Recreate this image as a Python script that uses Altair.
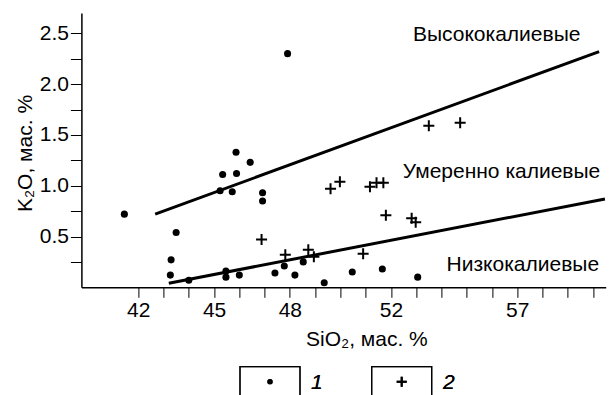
import altair as alt
import pandas as pd

# Group 1 (dots): SiO2 and K2O, wt. %
dot_sio2 = [41.45, 43.5, 43.3, 43.27, 44.0, 45.24, 45.34, 45.72, 45.87, 45.89,
            46.43, 46.92, 46.92, 45.47, 45.47, 46.0, 47.41, 47.78, 47.91, 48.2,
            48.53, 49.36, 50.47, 51.66, 53.06]
dot_k2o = [0.72, 0.54, 0.27, 0.12, 0.07, 0.95, 1.11, 0.94, 1.33, 1.12,
           1.23, 0.93, 0.85, 0.10, 0.16, 0.12, 0.14, 0.21, 2.30, 0.12,
           0.25, 0.045, 0.15, 0.18, 0.10]

# Group 2 (crosses)
cross_sio2 = [46.88, 47.82, 48.73, 48.95, 49.61, 49.98, 50.9, 51.17, 51.43,
              51.7, 51.8, 52.82, 52.98, 53.5, 54.74]
cross_k2o = [0.47, 0.32, 0.37, 0.30, 0.97, 1.04, 0.33, 0.99, 1.03,
             1.03, 0.71, 0.68, 0.64, 1.59, 1.62]

# Field boundaries
high_k_sio2 = [42.67, 60.24]
high_k_k2o = [0.72, 2.32]
low_k_sio2 = [43.21, 60.47]
low_k_k2o = [0.04, 0.87]

# Field names
field_names = ["Высококалиевые", "Умеренно калиевые", "Низкокалиевые"]
field_sio2 = [52.87, 52.47, 54.2]
field_k2o = [2.48, 1.135, 0.22]

x_ticks = list(range(42, 61))
x_labeled = [42, 45, 48, 52, 57]
y_ticks = [0.25 * i for i in range(1, 11)]

FONT = "Liberation Sans"
CROSS = "M-1,0L1,0M0,-1L0,1"

x_scale = alt.Scale(domain=[39.75, 60.5], nice=False, zero=False)
y_scale = alt.Scale(domain=[0, 2.7], nice=False, zero=False)

x_axis = alt.Axis(
    title="SiO₂, мас. %", values=x_ticks,
    labelExpr="indexof(" + str(x_labeled) + ", datum.value) >= 0 ? datum.label : ''",
    grid=False, domainColor="black", domainWidth=1.5, tickColor="black",
    tickSize=10, labelFontSize=21, labelFont=FONT, labelColor="black",
    labelPadding=2, titleFontSize=21, titleFont=FONT, titleFontWeight="normal",
    titleColor="black", titleX=285, titleY=52, titleBaseline="middle",
    labelFlush=False, labelOverlap=False,
)
y_axis = alt.Axis(
    title="K₂O, мас. %", values=y_ticks,
    labelExpr="(round(datum.value * 4) % 2 == 0) ? format(datum.value, '.1f') : ''",
    grid=False, domainColor="black", domainWidth=1.5, tickColor="black",
    tickSize=11, labelFontSize=21, labelFont=FONT, labelColor="black",
    labelPadding=2, titleFontSize=21, titleFont=FONT, titleFontWeight="normal",
    titleColor="black", titleX=-56, titleY=140, titleBaseline="middle",
    titleAngle=-90, labelOverlap=False,
)

dots = pd.DataFrame({"sio2": dot_sio2, "k2o": dot_k2o})
crosses = pd.DataFrame({"sio2": cross_sio2, "k2o": cross_k2o})
high_line = pd.DataFrame({"sio2": high_k_sio2, "k2o": high_k_k2o})
low_line = pd.DataFrame({"sio2": low_k_sio2, "k2o": low_k_k2o})
fields = pd.DataFrame({"name": field_names, "sio2": field_sio2, "k2o": field_k2o})

X = alt.X("sio2:Q", scale=x_scale, axis=x_axis)
Y = alt.Y("k2o:Q", scale=y_scale, axis=y_axis)

high = alt.Chart(high_line).mark_line(color="black", strokeWidth=3).encode(x=X, y=Y)
low = alt.Chart(low_line).mark_line(color="black", strokeWidth=3).encode(x=X, y=Y)

dot_layer = alt.Chart(dots).mark_point(
    shape="circle", filled=True, color="black", size=50, opacity=1
).encode(x=X, y=Y)

cross_layer = alt.Chart(crosses).mark_point(
    shape=CROSS, filled=False, color="black", strokeWidth=2, size=121, opacity=1
).encode(x=X, y=Y)

field_text = alt.Chart(fields).mark_text(
    align="left", baseline="middle", font=FONT, fontSize=21, color="black"
).encode(x=X, y=Y, text="name:N")

# Legend below the plot: two open boxes with symbols and italic numbers
legend_items = pd.DataFrame({"label": ["1", "2"]})
box_style = dict(fill=None, stroke="black", strokeWidth=1.2, clip=False)
box1 = alt.Chart(legend_items).mark_rect(**box_style).encode(
    x=alt.value(158.6), x2=alt.value(218.6), y=alt.value(353.7), y2=alt.value(430))
box2 = alt.Chart(legend_items).mark_rect(**box_style).encode(
    x=alt.value(290.3), x2=alt.value(350.3), y=alt.value(353.7), y2=alt.value(430))
sym1 = alt.Chart(legend_items).mark_point(
    shape="circle", filled=True, color="black", size=28, opacity=1, clip=False
).encode(x=alt.value(188.6), y=alt.value(368.7))
sym2 = alt.Chart(legend_items).mark_point(
    shape=CROSS, filled=False, color="black", strokeWidth=2, size=100, opacity=1, clip=False
).encode(x=alt.value(320.3), y=alt.value(368.7))
lab1 = alt.Chart(legend_items).mark_text(
    align="left", baseline="middle", font=FONT, fontSize=21, fontStyle="italic",
    color="black", clip=False, text="1"
).encode(x=alt.value(229.6), y=alt.value(369.7))
lab2 = alt.Chart(legend_items).mark_text(
    align="left", baseline="middle", font=FONT, fontSize=21, fontStyle="italic",
    color="black", clip=False, text="2"
).encode(x=alt.value(361.6), y=alt.value(369.7))

chart = alt.layer(
    high, low, dot_layer, cross_layer, field_text,
    box1, box2, sym1, sym2, lab1, lab2
).properties(
    width=524.3, height=274.3,
    autosize=alt.AutoSizeParams(type="none"),
    padding={"left": 81.4, "top": 13, "right": 3.3, "bottom": 107.7},
    background="white",
).configure_view(stroke=None).configure_axis(labelOverlap=False)

chart.save("out.html", embed_options={"renderer": "svg", "actions": False})
